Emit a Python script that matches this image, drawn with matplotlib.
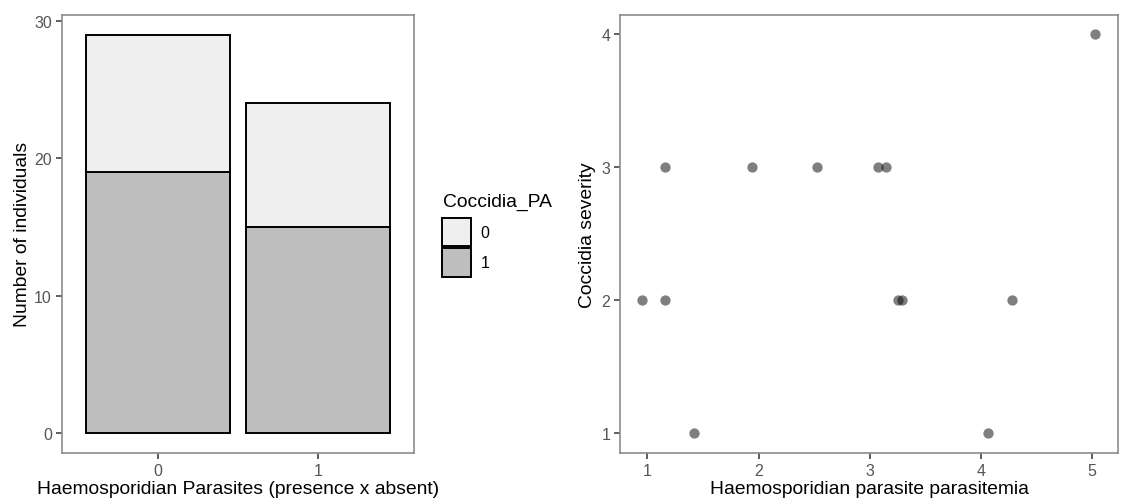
import matplotlib
matplotlib.use("Agg")
import matplotlib.pyplot as plt
from matplotlib.patches import Patch
import numpy as np

plt.rcParams['font.family'] = ['Liberation Sans', 'DejaVu Sans']

# Stacked counts of individuals by haemosporidian status
haemo_groups = ['0', '1']
coccidia_present = [19, 15]   # Coccidia_PA = 1
coccidia_absent = [10, 9]     # Coccidia_PA = 0

# Parasitemia vs coccidia severity
parasitemia = [0.95, 1.16, 1.16, 1.42, 1.94, 2.53, 3.07, 3.15, 3.25, 3.29, 4.06, 4.28, 5.02]
severity = [2, 2, 3, 1, 3, 3, 3, 3, 2, 2, 1, 2, 4]

light = '#efefef'
dark = '#bebebe'
border = '#8c8c8c'
tick_col = '#555555'

fig = plt.figure(figsize=(11.23, 5.02), dpi=100)
W, H = 1123, 502

def panel(x0, x1, y0, y1):
    return fig.add_axes([x0 / W, 1 - y1 / H, (x1 - x0) / W, (y1 - y0) / H])

def style(ax):
    for s in ax.spines.values():
        s.set_color(border)
        s.set_linewidth(1.2)
    ax.tick_params(colors='#333333', labelsize=11.5, length=4, width=1.1,
                   labelcolor=tick_col, pad=3)

# left: stacked bars
ax1 = panel(61.7, 414.3, 15.7, 454)
x = np.arange(len(haemo_groups))
ax1.bar(x, coccidia_present, width=0.9, color=dark, edgecolor='black', linewidth=1.4)
ax1.bar(x, coccidia_absent, bottom=coccidia_present, width=0.9, color=light,
        edgecolor='black', linewidth=1.4)
ax1.set_xlim(-0.6, 1.6)
ax1.set_ylim(-1.45, 30.45)
ax1.set_xticks(x)
ax1.set_xticklabels(haemo_groups)
ax1.set_yticks([0, 10, 20, 30])
style(ax1)
ax1.set_xlabel('Haemosporidian Parasites (presence x absent)', fontsize=13.9, labelpad=2)
ax1.set_ylabel('Number of individuals', fontsize=13.9, labelpad=2)

# legend: title as plain text, keys sized like ggplot's filled squares
fig.text(443 / W, 1 - 207 / H, 'Coccidia_PA', fontsize=13.9, ha='left', va='baseline')
handles = [Patch(facecolor=light, edgecolor='black', linewidth=1.4, label='0'),
           Patch(facecolor=dark, edgecolor='black', linewidth=1.4, label='1')]
leg = fig.legend(handles=handles, loc='upper left',
                 bbox_to_anchor=(442 / W, 1 - 219 / H), frameon=False,
                 borderpad=0, borderaxespad=0,
                 fontsize=11.5, handlelength=1.8,
                 handleheight=2.36, handletextpad=0.6, labelspacing=0.12)

# right: scatter
ax2 = panel(620, 1118, 15.7, 454)
ax2.scatter(parasitemia, severity, s=55, color='black', alpha=0.5, linewidths=0)
ax2.set_xlim(0.755, 5.231)
ax2.set_ylim(0.852, 4.147)
ax2.set_xticks([1, 2, 3, 4, 5])
ax2.set_yticks([1, 2, 3, 4])
style(ax2)
ax2.set_xlabel('Haemosporidian parasite parasitemia', fontsize=13.9, labelpad=2)
ax2.set_ylabel('Coccidia severity', fontsize=13.9, labelpad=4)

fig.savefig('out.png', dpi=100, facecolor='white')
